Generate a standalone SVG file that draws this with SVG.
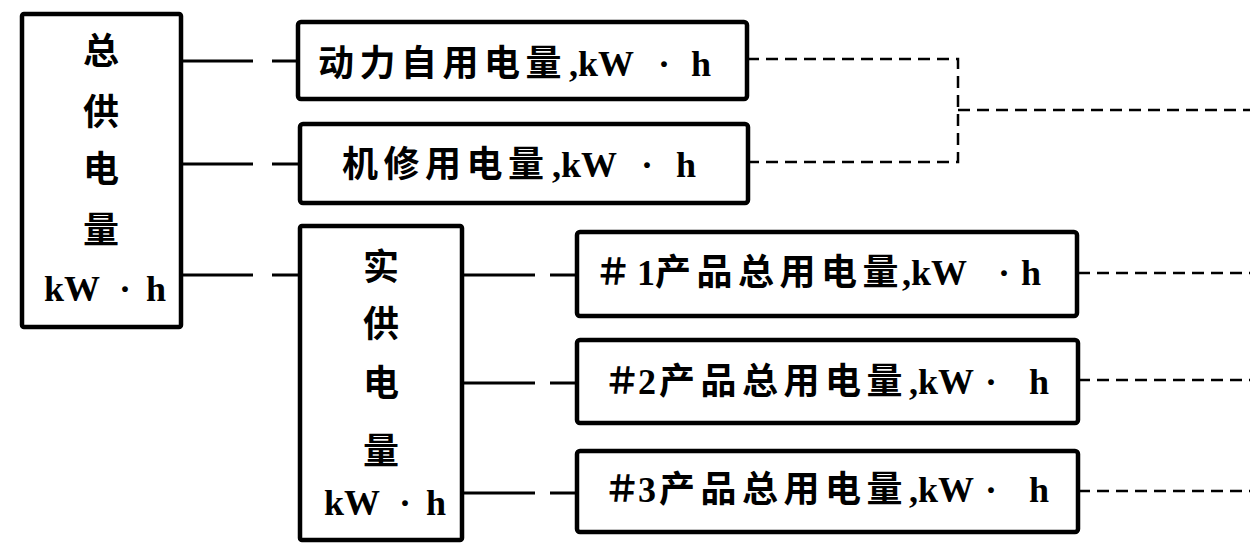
<svg xmlns="http://www.w3.org/2000/svg" width="1250" height="543" viewBox="0 0 1250 543">
<style>
.box{fill:#fff;stroke:#000;stroke-width:4.5}
.t{font-family:"Liberation Serif","Noto Sans CJK SC",serif;font-weight:bold;font-size:36px;fill:#000;dominant-baseline:central}
.c{text-anchor:middle}
.cj{letter-spacing:5.5px}
.s{stroke:#000;stroke-width:3;fill:none}
.d{stroke:#000;stroke-width:2.5;fill:none;stroke-dasharray:12 7}
</style>
<rect width="1250" height="543" fill="#fff"/>
<g id="connectors">
<path class="s" d="M182 61H253M272 61H298M182 164H253M272 164H300M182 275H253M272 275H300"/>
<path class="s" d="M463 275H535M550 275H577M463 383H535M550 383H577M463 493H535M550 493H577"/>
<path class="d" d="M747 59H958V162H748"/>
<path class="d" d="M958 110H1250"/>
<path class="d" d="M1078 273H1250M1078 380H1250M1078 491H1250"/>
</g>
<g id="n-total">
<rect class="box" x="22" y="14" width="159" height="313" rx="2"/>
<text class="t c" x="101" y="52">总</text>
<text class="t c" x="101" y="113">供</text>
<text class="t c" x="101" y="170">电</text>
<text class="t c" x="101" y="231">量</text>
<text class="t" y="289"><tspan x="44">kW</tspan><tspan x="125" class="c">·</tspan><tspan x="146">h</tspan></text>
</g>
<g id="n-power">
<rect class="box" x="298" y="22" width="449" height="77" rx="3"/>
<text class="t" y="64"><tspan x="318" class="cj">动力自用电量</tspan><tspan x="569">,kW</tspan><tspan x="664" class="c">·</tspan><tspan x="691">h</tspan></text>
</g>
<g id="n-repair">
<rect class="box" x="300" y="124" width="448" height="79" rx="3"/>
<text class="t" y="165"><tspan x="342" class="cj">机修用电量</tspan><tspan x="552">,kW</tspan><tspan x="647" class="c">·</tspan><tspan x="676">h</tspan></text>
</g>
<g id="n-actual">
<rect class="box" x="300" y="226" width="162" height="314" rx="2"/>
<text class="t c" x="381" y="268">实</text>
<text class="t c" x="381" y="325">供</text>
<text class="t c" x="381" y="384">电</text>
<text class="t c" x="381" y="452">量</text>
<text class="t" y="503"><tspan x="324">kW</tspan><tspan x="405" class="c">·</tspan><tspan x="426">h</tspan></text>
</g>
<g id="n-p1">
<rect class="box" x="577" y="232" width="500" height="84" rx="3"/>
<text class="t" y="273"><tspan x="595">＃</tspan><tspan x="637">1</tspan><tspan x="655" class="cj">产品总用电量</tspan><tspan x="902">,kW</tspan><tspan x="1004" class="c">·</tspan><tspan x="1021">h</tspan></text>
</g>
<g id="n-p2">
<rect class="box" x="577" y="340" width="501" height="83" rx="3"/>
<text class="t" y="382"><tspan x="604">＃</tspan><tspan x="638">2</tspan><tspan x="659" class="cj">产品总用电量</tspan><tspan x="909">,kW</tspan><tspan x="991" class="c">·</tspan><tspan x="1029">h</tspan></text>
</g>
<g id="n-p3">
<rect class="box" x="577" y="451" width="501" height="81" rx="3"/>
<text class="t" y="490"><tspan x="604">＃</tspan><tspan x="638">3</tspan><tspan x="659" class="cj">产品总用电量</tspan><tspan x="909">,kW</tspan><tspan x="991" class="c">·</tspan><tspan x="1029">h</tspan></text>
</g>
</svg>
